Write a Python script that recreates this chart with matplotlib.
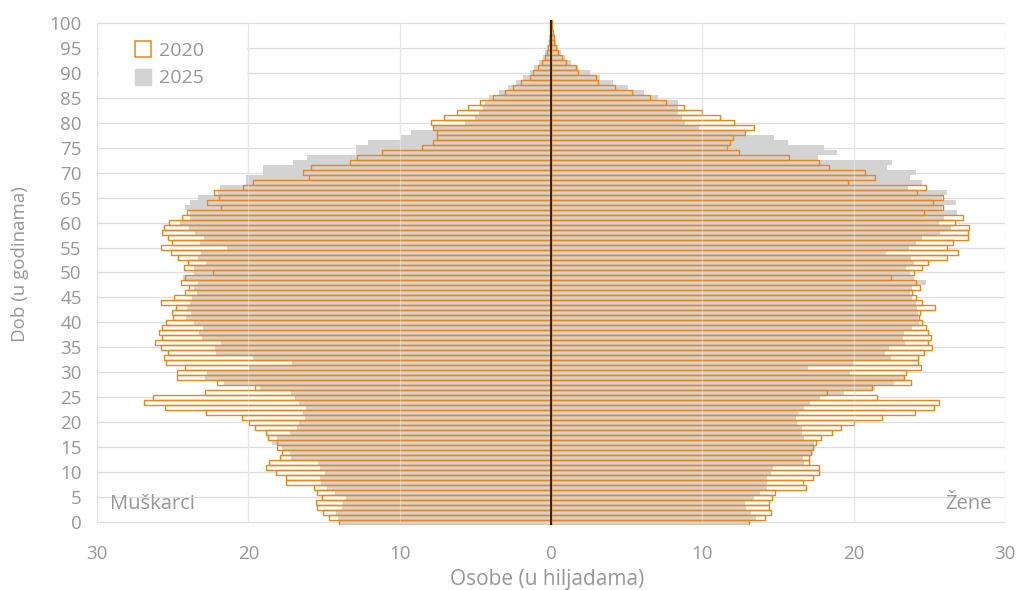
import matplotlib
matplotlib.use("Agg")
import matplotlib.pyplot as plt
from matplotlib.lines import Line2D
from matplotlib.patches import Rectangle

# ages 0..100, population in thousands
ages = list(range(101))

male_2020 = [
    14.03, 14.65, 15.09, 15.48, 15.53, 15.13, 15.44, 15.64, 17.49, 17.53,
    18.17, 18.85, 18.66, 17.93, 17.80, 18.08, 18.08, 18.68, 18.81, 19.54,
    19.96, 20.40, 22.78, 25.48, 26.87, 26.28, 22.84, 19.54, 22.05, 24.70,
    24.70, 24.18, 25.42, 25.55, 25.30, 25.80, 26.20, 25.70, 25.93, 25.70,
    25.42, 24.96, 25.02, 24.76, 25.75, 24.89, 24.18, 23.90, 24.45, 24.16,
    22.31, 24.23, 23.99, 24.63, 25.13, 25.80, 25.07, 25.33, 25.70, 25.55,
    25.22, 24.36, 24.07, 21.83, 22.75, 21.92, 22.25, 20.33, 19.67, 15.97,
    16.41, 15.84, 13.28, 12.84, 11.20, 8.52, 7.79, 7.50, 7.52, 7.83,
    7.90, 7.06, 6.22, 5.50, 4.68, 3.84, 3.04, 2.53, 1.98, 1.39,
    1.19, 0.84, 0.62, 0.37, 0.26, 0.18, 0.11, 0.09, 0.07, 0.04,
    0.08,
]
male_2025 = [
    14.00, 14.05, 14.20, 13.83, 13.72, 13.55, 14.25, 14.82, 15.20, 15.26,
    14.93, 15.26, 15.40, 17.18, 17.25, 17.80, 18.41, 18.13, 17.25, 16.80,
    16.65, 16.26, 16.37, 16.19, 16.63, 16.90, 17.20, 19.23, 21.60, 22.86,
    22.70, 19.96, 17.14, 19.70, 22.16, 22.20, 21.80, 23.06, 23.24, 23.00,
    23.60, 24.12, 23.79, 24.03, 23.85, 23.74, 23.41, 23.57, 23.30, 24.34,
    23.59, 23.59, 22.80, 23.35, 23.13, 21.43, 23.19, 22.93, 23.50, 23.92,
    24.50, 23.85, 23.85, 24.16, 23.85, 23.35, 22.00, 21.87, 20.15, 20.15,
    19.05, 19.05, 17.03, 16.15, 12.90, 12.87, 12.08, 9.88, 9.22, 7.70,
    5.70, 5.05, 4.75, 4.50, 4.34, 4.12, 3.41, 2.82, 2.31, 1.83,
    1.37, 1.10, 0.77, 0.51, 0.37, 0.26, 0.15, 0.11, 0.07, 0.04,
    0.00,
]
female_2020 = [
    13.08, 14.14, 14.52, 14.43, 14.40, 14.63, 14.80, 16.85, 16.63, 17.33,
    17.73, 17.73, 17.07, 17.07, 17.16, 17.29, 17.49, 17.86, 18.55, 19.19,
    20.00, 21.85, 24.07, 25.33, 25.64, 21.54, 18.26, 21.23, 23.81, 23.30,
    23.48, 24.45, 24.23, 24.23, 24.67, 25.20, 24.93, 25.13, 24.90, 24.80,
    24.50, 24.34, 24.40, 25.37, 24.54, 24.12, 23.88, 24.36, 24.12, 22.47,
    24.00, 24.49, 24.91, 26.15, 26.92, 26.15, 26.56, 27.53, 27.53, 27.64,
    26.70, 27.25, 24.65, 25.88, 25.26, 25.93, 24.19, 24.80, 19.65, 21.41,
    20.77, 18.35, 17.73, 15.75, 12.44, 11.65, 11.83, 12.05, 12.84, 13.44,
    12.10, 11.20, 9.98, 8.81, 7.62, 6.54, 5.33, 4.23, 3.13, 2.95,
    1.80, 1.63, 0.97, 0.73, 0.48, 0.33, 0.22, 0.18, 0.11, 0.07,
    0.08,
]
female_2025 = [
    13.08, 13.57, 13.20, 12.86, 12.82, 13.44, 13.80, 14.25, 14.25, 14.30,
    14.54, 14.65, 16.72, 16.67, 17.30, 17.44, 17.40, 16.70, 16.56, 16.56,
    16.25, 16.17, 16.30, 16.72, 17.10, 17.78, 19.38, 21.40, 22.64, 23.30,
    19.76, 16.96, 19.96, 22.50, 22.07, 22.33, 23.40, 23.24, 23.33, 23.83,
    24.35, 24.23, 24.27, 24.16, 24.10, 23.83, 23.72, 23.83, 24.78, 24.00,
    23.72, 23.44, 23.99, 23.79, 22.14, 23.66, 24.12, 24.50, 25.70, 26.43,
    25.66, 25.99, 26.83, 25.81, 26.76, 25.81, 26.19, 23.57, 24.49, 23.72,
    24.10, 22.22, 22.56, 17.67, 18.92, 18.02, 15.64, 14.76, 12.82, 9.78,
    8.85, 8.63, 8.37, 8.37, 8.41, 7.09, 6.15, 5.07, 4.10, 3.24,
    2.57, 1.80, 1.32, 0.93, 0.66, 0.46, 0.31, 0.22, 0.13, 0.07,
    0.00,
]

x_ticks = [-30, -20, -10, 0, 10, 20, 30]
y_ticks = list(range(0, 101, 5))

ORANGE = "#e8861a"
GREY = "#d3d3d3"
TEXT = "#979797"
GRID = "#dedede"

plt.rcParams["font.family"] = ["Open Sans", "DejaVu Sans"]

fig = plt.figure(figsize=(10.18, 5.90), dpi=100)
ax = fig.add_axes([0.0953, 0.1110, 0.8919, 0.8543])

# grid
ax.hlines(y_ticks, -30, 30, color=GRID, lw=0.9, zorder=0.4)
ax.vlines([-30, -20, -10, 10, 20, 30], 0, 100, color=GRID, lw=0.9, zorder=0.6)
# legend area hides the horizontal grid
ax.add_patch(Rectangle((-29.9, 86), 9.8, 13.4, facecolor="white",
                       edgecolor="none", zorder=0.5))

neg_m20 = [-v for v in male_2020]
neg_m25 = [-v for v in male_2025]

# 2020 white fill below, 2025 grey, 2020 outline on top
for vals in (neg_m20, female_2020):
    ax.barh(ages, vals, height=1.0, color="white", edgecolor="none", zorder=1)
for vals in (neg_m25, female_2025):
    ax.barh(ages, vals, height=1.0, color=GREY, edgecolor="none", zorder=2)
for vals in (neg_m20, female_2020):
    ax.barh(ages, vals, height=1.0, fill=False, edgecolor=ORANGE,
            linewidth=1.0, zorder=3)

# faint grid showing through the bars
ax.vlines([-20, -10, 10, 20], 0, 100, color="white", lw=0.9, alpha=0.3, zorder=3.5)
ax.vlines(0, -0.5, 100.5, color="#33210f", lw=1.4, zorder=4)

ax.set_xlim(-30, 30)
ax.set_ylim(-0.5, 100.5)
ax.set_xticks(x_ticks, [str(abs(t)) for t in x_ticks])
ax.set_yticks(y_ticks, [str(t) for t in y_ticks])
ax.tick_params(length=0, labelsize=13.5, labelcolor=TEXT)
ax.tick_params(axis="x", pad=15)
ax.tick_params(axis="y", pad=11)
for spine in ax.spines.values():
    spine.set_visible(False)

ax.set_xlabel("Osobe (u hiljadama)", fontsize=15, color=TEXT)
ax.set_ylabel("Dob (u godinama)", fontsize=13.5, color=TEXT)
ax.xaxis.label.set_va("center")
ax.xaxis.set_label_coords(0.4956, -0.110)
ax.yaxis.label.set_va("center")
ax.yaxis.set_label_coords(-0.0848, 0.517)

ax.text(-29.14, 3.6, "Muškarci", fontsize=14.5, color=TEXT, ha="left", va="center")
ax.text(29.15, 3.6, "Žene", fontsize=14.5, color=TEXT, ha="right", va="center")

handles = [
    Line2D([], [], linestyle="none", marker="s", markersize=11,
           markerfacecolor="white", markeredgecolor=ORANGE, markeredgewidth=1.1),
    Line2D([], [], linestyle="none", marker="s", markersize=11,
           markerfacecolor=GREY, markeredgecolor=GREY),
]
ax.legend(handles, ["2020", "2025"], loc="upper left",
          bbox_to_anchor=(0.040, 0.958), frameon=False, fontsize=14,
          labelcolor=TEXT, handlelength=1.0, handletextpad=0.3,
          labelspacing=0.5, borderpad=0, borderaxespad=0)

fig.savefig("out.png", dpi=100)
